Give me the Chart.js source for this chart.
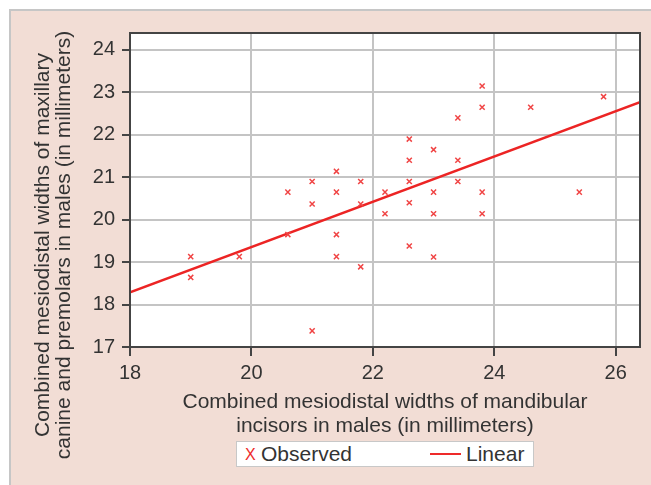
<!DOCTYPE html>
<html>
<head>
<meta charset="utf-8">
<script src="https://cdn.jsdelivr.net/npm/chart.js@4"></script>
<style>
  body { margin: 0; background: #fff; }
  #panel { position: absolute; left: 9px; top: 9px; width: 642px; height: 476px; background: #f2ddd5; border-left: 2px solid #c6c6c6; border-top: 2px solid #c6c6c6; box-sizing: border-box; }
  #chart { position: absolute; left: 0; top: 0; }
  #legend { position: absolute; left: 236px; top: 441px; width: 298px; height: 26px; background: #fff; border: 1px solid #c8c8c8; box-sizing: border-box; font-family: "Liberation Sans", Arial, sans-serif; font-size: 21px; color: #333; }
  #legend span { position: absolute; top: 0px; line-height: 24px; }
  #legend .mk { color: #ee2a2a; left: 8px; font-size: 16px; top: 1px; }
  #legend .ln { position: absolute; left: 193px; top: 11px; width: 31px; height: 2px; background: #ee2a2a; }
</style>
</head>
<body>
<div id="panel"></div>
<canvas id="chart" width="651" height="485"></canvas>
<div id="legend">
  <span class="mk">X</span><span style="left:24px">Observed</span>
  <div class="ln"></div><span style="left:229px">Linear</span>
</div>
<script>
const obsX = [19.0, 19.0, 19.8, 20.6, 20.6, 21.0, 21.0, 21.0, 21.4, 21.4, 21.4, 21.4,
    21.8, 21.8, 21.8, 22.2, 22.2, 22.6, 22.6, 22.6, 22.6, 22.6, 23.0, 23.0, 23.0, 23.0,
    23.4, 23.4, 23.4, 23.8, 23.8, 23.8, 23.8, 24.6, 25.4, 25.8];
const obsY = [19.13, 18.64, 19.13, 20.65, 19.65, 20.9, 20.37, 17.38, 21.14, 20.65, 19.65, 19.13,
    20.9, 20.37, 18.89, 20.65, 20.14, 21.9, 21.4, 20.9, 20.4, 19.38, 21.65, 20.65, 20.14, 19.12,
    22.4, 21.4, 20.9, 23.15, 22.65, 20.65, 20.14, 22.65, 20.65, 22.9];
const fitX = [18, 26.4];
const fitY = [18.29, 22.77];
const xTitle = ['Combined mesiodistal widths of mandibular', 'incisors in males (in millimeters)'];
const yTitle = ['Combined mesiodistal widths of maxillary', 'canine and premolars in males (in millimeters)'];

const font = "'Liberation Sans', Arial, sans-serif";

const plotBox = {
    id: 'plotBox',
    beforeDraw(chart) {
        const a = chart.chartArea;
        chart.ctx.save();
        chart.ctx.fillStyle = '#fff';
        chart.ctx.fillRect(a.left, a.top, a.right - a.left, a.bottom - a.top);
        chart.ctx.restore();
    },
    afterDraw(chart) {
        const a = chart.chartArea;
        const ctx = chart.ctx;
        ctx.save();
        ctx.strokeStyle = '#444';
        ctx.lineWidth = 2;
        ctx.strokeRect(a.left, a.top, a.right - a.left, a.bottom - a.top);
        ctx.restore();

        // y title is longer than the plot height, so it is drawn by hand
        ctx.save();
        ctx.translate(43, 245);
        ctx.rotate(-Math.PI / 2);
        ctx.font = '21px ' + font;
        ctx.fillStyle = '#333';
        ctx.textAlign = 'center';
        ctx.textBaseline = 'middle';
        yTitle.forEach((t, i) => ctx.fillText(t, 0, i * 21));
        ctx.restore();
    }
};

const ctx = document.getElementById('chart').getContext('2d');
new Chart(ctx, {
    type: 'scatter',
    data: {
        datasets: [{
            label: 'Observed',
            data: obsX.map((x, i) => ({x: x, y: obsY[i]})),
            pointStyle: 'crossRot',
            radius: 3.6,
            borderColor: '#f04444',
            backgroundColor: '#f04444',
            borderWidth: 1.5
        }, {
            label: 'Linear',
            type: 'line',
            showLine: true,
            data: fitX.map((x, i) => ({x: x, y: fitY[i]})),
            borderColor: '#ec2424',
            borderWidth: 2.5,
            pointRadius: 0,
            fill: false
        }]
    },
    options: {
        responsive: false,
        animation: false,
        layout: {
            padding: {left: 0, top: 33, right: 11, bottom: 45}
        },
        plugins: {
            legend: { display: false },
            tooltip: { enabled: false }
        },
        scales: {
            x: {
                min: 18,
                max: 26.4,
                afterBuildTicks: function (axis) {
                    axis.ticks = axis.ticks.filter(t => Math.abs(t.value % 2) < 1e-6);
                },
                afterFit: function (scale) { scale.height = 93; },
                ticks: {
                    stepSize: 2,
                    includeBounds: false,
                    padding: 5,
                    color: '#333',
                    font: {family: font, size: 20}
                },
                grid: {
                    color: '#c4c4c4',
                    lineWidth: 2,
                    tickColor: '#444',
                    tickLength: 9,
                    tickWidth: 2
                },
                border: { color: '#444', width: 2 },
                title: {
                    display: true,
                    text: xTitle,
                    color: '#333',
                    padding: {top: 0, bottom: 2},
                    font: {family: font, size: 21, lineHeight: '24px'}
                }
            },
            y: {
                min: 17,
                max: 24.4,
                afterBuildTicks: function (axis) {
                    axis.ticks = axis.ticks.filter(t => Number.isInteger(t.value));
                },
                afterFit: function (scale) { scale.width = 130; },
                ticks: {
                    stepSize: 1,
                    includeBounds: false,
                    padding: 7,
                    color: '#333',
                    font: {family: font, size: 20}
                },
                grid: {
                    color: '#c4c4c4',
                    lineWidth: 2,
                    tickColor: '#444',
                    tickLength: 8,
                    tickWidth: 2
                },
                border: { color: '#444', width: 2 },
                title: { display: false }
            }
        }
    },
    plugins: [plotBox]
});
</script>
</body>
</html>
